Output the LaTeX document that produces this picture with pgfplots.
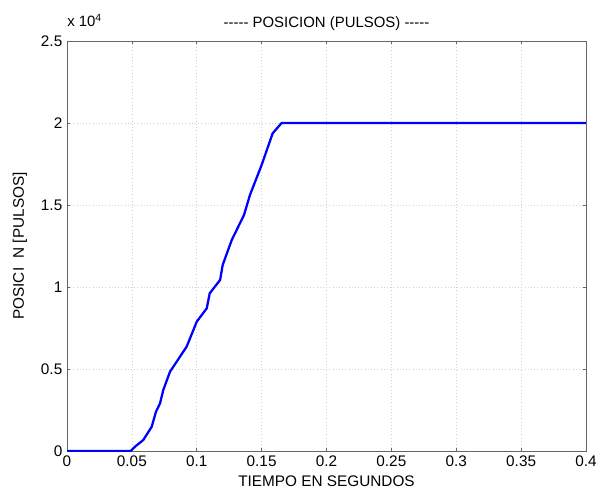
\documentclass[border=0pt]{standalone}
\usepackage{pgfplots}
\pgfplotsset{compat=1.18}
\usepackage{fontspec}
\setmainfont{Liberation Sans}
\begin{document}
\begin{tikzpicture}
\begin{axis}[
    name=ax,
    scale only axis,
    width=389.25pt, height=307.5pt,
    xmin=0, xmax=0.4, ymin=0, ymax=25000,
    xtick={0,0.05,0.1,0.15,0.2,0.25,0.3,0.35,0.4},
    ytick={0,5000,10000,15000,20000,25000},
    yticklabels={0,0.5,1,1.5,2,2.5},
    scaled x ticks=false,
    scaled y ticks=false,
    xticklabel style={/pgf/number format/fixed,/pgf/number format/precision=2,/pgf/number format/assume math mode=true},
    ticklabel style={font=\fontsize{11.5}{13}\selectfont},
    tick align=inside,
    major tick length=2.5pt,
    tick style={gray!80!black, line width=0.5pt},
    axis line style={gray!80!black, line width=0.6pt},
    grid=major,
    major grid style={gray!35, line width=0.4pt, dotted},
    title={{-}{-}{-}{-}{-} POSICION (PULSOS) {-}{-}{-}{-}{-}},
    title style={font=\fontsize{11.2}{13}\selectfont, at={(0.5,1)}, anchor=base, yshift=3.75pt},
    xlabel={TIEMPO EN SEGUNDOS},
    ylabel={POSICI\hspace{7pt}N [PULSOS]},
    label style={font=\fontsize{11.5}{13}\selectfont},
    xlabel style={at={(0.5,0)}, anchor=center, yshift=-22.5pt},
    ylabel style={at={(0,0.5)}, anchor=center, yshift=35.25pt},
]
\addplot[color=blue, line width=1.7pt] coordinates {
    (0,0) (0.049,0) (0.0524,262) (0.0588,671) (0.0653,1482) (0.0686,2397)
    (0.0717,2908) (0.0742,3720) (0.0794,4838) (0.0922,6360) (0.1,7885)
    (0.1077,8700) (0.110,9615) (0.118,10430) (0.120,11345) (0.127,12870)
    (0.1364,14390) (0.141,15610) (0.150,17440) (0.1585,19370) (0.1654,20000)
    (0.4,20000)
};
\end{axis}
\node[anchor=base west, font=\fontsize{11.2}{13}\selectfont, inner sep=0pt] at ([yshift=10.5pt]ax.north west) {x 10\textsuperscript{4}};
\pgfresetboundingbox
\path[use as bounding box] ([xshift=-50.25pt,yshift=-27.75pt]ax.south west) rectangle ([xshift=10.5pt,yshift=30.75pt]ax.north east);
\end{tikzpicture}
\end{document}
